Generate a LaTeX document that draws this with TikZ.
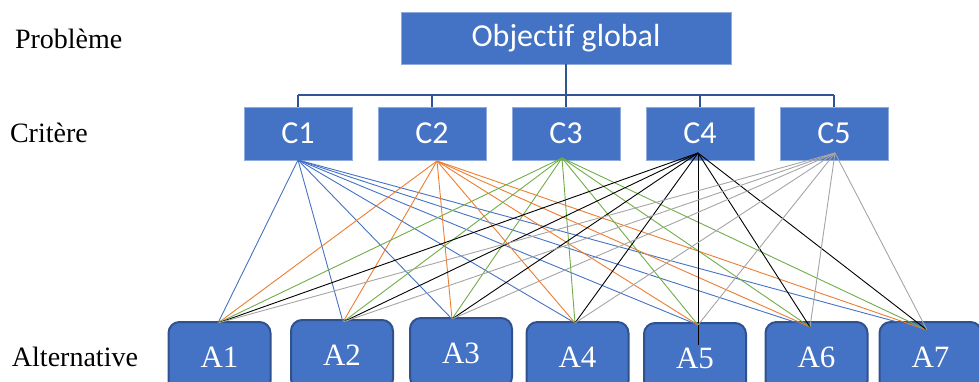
\documentclass[tikz,border=0pt]{standalone}
\usepackage{fontspec}
\setmainfont{Liberation Serif}
\newfontfamily\boxfont[Ligatures=CommonOff]{Carlito}
\definecolor{boxblue}{RGB}{68,114,196}
\definecolor{boxedge}{RGB}{47,82,143}
\definecolor{treeline}{RGB}{47,85,151}
\definecolor{c1}{RGB}{68,114,196}
\definecolor{c2}{RGB}{237,125,49}
\definecolor{c3}{RGB}{112,173,71}
\definecolor{c4}{RGB}{0,0,0}
\definecolor{c5}{RGB}{165,165,165}
\usetikzlibrary{
  positioning     % positions like below of node
}
\tikzset{
  every node/.style = {
    rectangle,
    inner sep = 0pt,
    outer sep = 0pt
  },
  goal/.style = {fill = boxblue, draw = boxblue!60!white, line width=0.6pt,
    minimum width=330pt, minimum height=52pt, text=white,
    font=\boxfont\fontsize{32}{36}\selectfont},
  crit/.style = {fill = boxblue, draw = boxblue!60!white, line width=0.6pt,
    minimum width=108pt, minimum height=53pt, text=white,
    font=\boxfont\fontsize{32}{36}\selectfont},
  alt/.style = {fill = boxblue, draw = boxedge, line width=2pt,
    rounded corners=11pt, minimum width=102pt, minimum height=70pt,
    text=white, font=\fontsize{31}{35}\selectfont},
  level/.style = {anchor=base west, font=\fontsize{28}{32}\selectfont},
  tree/.style = {draw = treeline, line width=2.2pt},
  link/.style = {line width=0.9pt}
}

\begin{document}
\begin{tikzpicture}[x=1pt, y=-1pt]
\useasboundingbox (0,0) rectangle (979,382);

% levels on the left
\node[level] (lprob) at (15,49) {Problème};
\node[level] (lcrit) at (10,143) {Critère};
\node[level] (lalt) at (12,366) {Alternative};

% goal and criteria
\node[goal] (goal) at (566,38) {Objectif global};
\foreach \i/\x in {1/298, 2/432, 3/566, 4/700, 5/834}
  \node[crit] (C\i) at (\x,133.5) {C\i};

\coordinate (bar) at (566,95);
\draw[tree] (goal.south) -- (bar);
\draw[tree] (C1.north |- bar) -- (C5.north |- bar);
\foreach \i in {1,...,5}
  \draw[tree] (C\i.north) -- (C\i.north |- bar);

% alternatives
\foreach \j/\x/\y in {1/219.5/357, 2/342/355, 3/461/353, 4/577.5/357,
                      5/695/358, 6/816.5/357, 7/930.5/357}
  \node[alt] (A\j) at (\x,\y) {A\j};

% end points of the links
\foreach \i/\x/\y in {1/298/160, 2/437/161, 3/562/158, 4/698/153, 5/835/153}
  \coordinate (c\i) at (\x,\y);
\foreach \j/\x/\y in {1/218/323, 2/343/322, 3/452/319, 4/575/323,
                      5/698/325, 6/810/327, 7/927/330}
  \coordinate (a\j) at (\x,\y);

% every criterion to every alternative
\foreach \i in {1,...,5}
  \foreach \j in {1,...,7}
    \draw[link, color=c\i] (c\i) -- (a\j);
\draw[link, color=c4] (a5) -- ++(0,20);
\end{tikzpicture}
\end{document}
